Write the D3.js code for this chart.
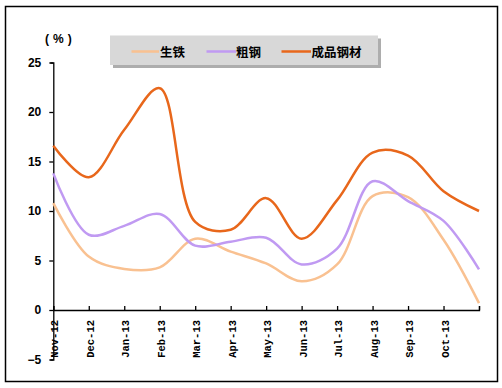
<!DOCTYPE html>
<html><head><meta charset="utf-8">
<script src="https://cdn.jsdelivr.net/npm/d3@7"></script>
<style>body{margin:0;background:#fff}</style>
</head><body><svg id="c" width="502" height="388"></svg>
<script>
const months = ["Nov-12","Dec-12","Jan-13","Feb-13","Mar-13","Apr-13","May-13","Jun-13","Jul-13","Aug-13","Sep-13","Oct-13"];
const seriesNames = ["生铁","粗钢","成品钢材"];
const pigIron = [10.8, 5.4, 4.15, 4.3, 7.2, 5.9, 4.7, 2.9, 4.6, 11.5, 11.4, 7.1, 0.7];
const crudeSteel = [13.8, 7.6, 8.5, 9.7, 6.5, 6.9, 7.3, 4.6, 6.2, 13.0, 11.0, 9.0, 4.1];
const finishedSteel = [16.6, 13.4, 18.2, 22.4, 8.9, 8.1, 11.3, 7.2, 11.1, 15.9, 15.6, 12.0, 10.0];
const yTicks = [-5, 0, 5, 10, 15, 20, 25];
const colors = ["#f9c191", "#c09af2", "#e8671b"];

const svg = d3.select("#c");
svg.append("rect").attr("x",5.5).attr("y",6.5).attr("width",492).attr("height",375)
  .attr("fill","#fff").attr("stroke","#000").attr("stroke-width",1.5);

const x = d3.scaleLinear().domain([0, 12]).range([53.3, 479]);
const y = d3.scaleLinear().domain([-5, 25]).range([359.5, 62.5]);

// y axis
const ya = svg.append("g").attr("transform","translate(53.3,0)")
  .call(d3.axisLeft(y).tickValues(yTicks).tickSize(3).tickPadding(9).tickFormat(d => d < 0 ? "\u2212" + Math.abs(d) : d));
ya.select(".domain").attr("stroke","#000").attr("stroke-width",1.3);
ya.selectAll(".tick line").attr("stroke","#000").attr("stroke-width",1.3).attr("x2",-4);
ya.selectAll(".tick text").attr("font-family","Liberation Sans, Arial, sans-serif")
  .attr("font-size",12).attr("font-weight","bold").attr("fill","#000");

// x axis at y=0
const xa = svg.append("g").attr("transform",`translate(0,${y(0)})`)
  .call(d3.axisTop(x).tickValues(d3.range(0,13)).tickSize(4).tickFormat(""));
xa.select(".domain").attr("stroke","#000").attr("stroke-width",1.3);
xa.selectAll(".tick line").attr("stroke","#000").attr("stroke-width",1.3);

svg.append("g").selectAll("text").data(months).join("text")
  .attr("transform",(d,i)=>`translate(${x(i)+1.5},320) rotate(-90)`)
  .attr("text-anchor","end").attr("dy","0.35em")
  .attr("font-family","Liberation Mono, DejaVu Sans Mono, monospace")
  .attr("font-size",10.5).attr("font-weight","bold").attr("fill","#000")
  .text(d=>d);

// unit label
svg.append("text").attr("x",45).attr("y",43)
  .attr("font-family","Liberation Sans, Arial, sans-serif").attr("font-size",12).attr("font-weight","bold")
  .attr("letter-spacing",4).text("(%)");

// lines
const line = d3.line().x((d,i)=>x(i)).y(d=>y(d)).curve(d3.curveCatmullRom.alpha(0.5));
[pigIron, crudeSteel, finishedSteel].forEach((s,k)=>{
  svg.append("path").attr("d", line(s)).attr("fill","none")
    .attr("stroke", colors[k]).attr("stroke-width", 2.5).attr("stroke-linejoin","round");
});

// legend
const lg = svg.append("g");
lg.append("rect").attr("x",113).attr("y",38.5).attr("width",268).attr("height",29.5).attr("fill","#8a8a8a").attr("opacity",0.7);
lg.append("rect").attr("x",110).attr("y",35.5).attr("width",268).attr("height",29.5).attr("fill","#d8d8d8");
const items = [{x1:131.5,x2:159,tx:160},{x1:206.5,x2:236,tx:236},{x1:281.5,x2:311,tx:311.5}];
items.forEach((it,k)=>{
  lg.append("line").attr("x1",it.x1).attr("x2",it.x2).attr("y1",51.5).attr("y2",51.5)
    .attr("stroke",colors[k]).attr("stroke-width",2.5);
  lg.append("text").attr("x",it.tx).attr("y",56.5)
    .attr("font-family","Noto Sans CJK SC, sans-serif").attr("font-size",12.5).attr("font-weight","bold")
    .attr("fill","#000").text(seriesNames[k]);
});
</script></body></html>
